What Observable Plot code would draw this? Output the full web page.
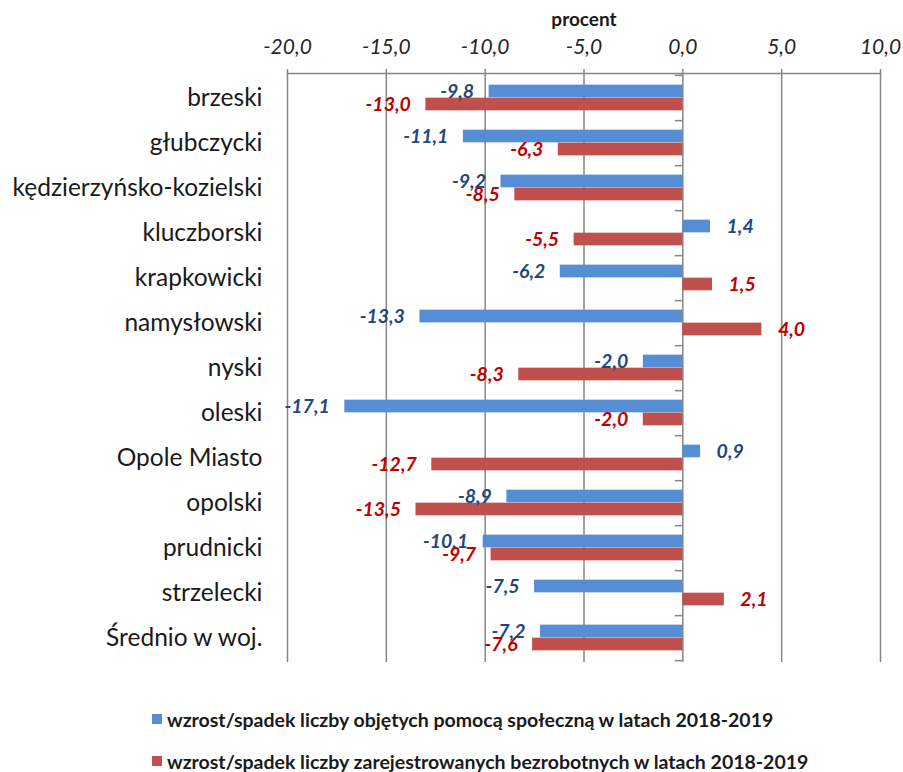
<!DOCTYPE html>
<html>
<head>
<meta charset="utf-8">
<script src="https://cdn.jsdelivr.net/npm/d3@7"></script>
<script src="https://cdn.jsdelivr.net/npm/@observablehq/plot@0.6"></script>
<style>
  html, body { margin: 0; padding: 0; background: #fff; }
  body { width: 903px; height: 772px; overflow: hidden; font-family: Lato, "Open Sans", sans-serif; }
  #legend { position: absolute; left: 152px; top: 698px; font-weight: bold; font-size: 19.5px; color: #1a1a1a; }
  .item { display: flex; align-items: center; height: 42px; white-space: nowrap; }
  .sw { width: 10px; height: 10px; margin-right: 5px; flex: none; }
  #chart { position: absolute; left: 0; top: 0; }
</style>
</head>
<body>
<div id="chart"></div>
<div id="legend"></div>
<script>
const categories = ["brzeski", "głubczycki", "kędzierzyńsko-kozielski", "kluczborski", "krapkowicki", "namysłowski", "nyski", "oleski", "Opole Miasto", "opolski", "prudnicki", "strzelecki", "Średnio w woj."];
const socialAid = [-9.8, -11.1, -9.2, 1.4, -6.2, -13.3, -2.0, -17.1, 0.9, -8.9, -10.1, -7.5, -7.2];
const unemployed = [-13.0, -6.3, -8.5, -5.5, 1.5, 4.0, -8.3, -2.0, -12.7, -13.5, -9.7, 2.1, -7.6];
const xTicks = [-20, -15, -10, -5, 0, 5, 10];
const seriesNames = ["wzrost/spadek liczby objętych pomocą społeczną w latach 2018-2019", "wzrost/spadek liczby zarejestrowanych bezrobotnych w latach 2018-2019"];
const axisTitle = "procent";

const colors = ["#558ED5", "#C0504D"];
const labelColors = ["#1F497D", "#C00000"];

const rows = categories.flatMap((c, i) => [
  {cat: c, s: 0, v: socialAid[i]},
  {cat: c, s: 1, v: unemployed[i]}
]);
const fmt = v => v.toFixed(1).replace(".", ",");

const H = 690, mt = 73, mb = 28;
const band = (H - mt - mb) / categories.length;
const half = band / 2;
const barH = 13;

const valueLabel = (s, neg) => Plot.text(rows, {
  filter: d => d.s === s && (neg ? d.v < 0 : d.v >= 0),
  x: "v", y: "cat", text: d => fmt(d.v),
  textAnchor: neg ? "end" : "start",
  dx: neg ? -15 : 16,
  dy: s === 0 ? -barH / 2 : barH / 2,
  fill: labelColors[s], fontWeight: "bold", fontStyle: "italic", fontSize: 19.5
});

const chart = Plot.plot({
  width: 903, height: H,
  marginTop: mt, marginBottom: mb, marginLeft: 287, marginRight: 23,
  style: {fontFamily: "Lato, 'Open Sans', sans-serif", color: "#1a1a1a", background: "#fff"},
  x: {domain: [-20, 10]},
  y: {domain: categories, padding: 0},
  marks: [
    Plot.ruleX(xTicks, {stroke: "#868686", strokeWidth: 1.5}),
    Plot.frame({anchor: "top", stroke: "#868686", strokeWidth: 1.5}),
    Plot.axisX({anchor: "top", ticks: xTicks, tickFormat: fmt, tickSize: 5, tickPadding: 15,
      stroke: "#868686", strokeWidth: 1.5, fontSize: 21, fontStyle: "italic", fill: "#262626", label: null}),
    Plot.text([axisTitle], {frameAnchor: "top", dy: -61, fontWeight: "bold", fontSize: 19, fill: "#1a1a1a"}),
    Plot.axisY({tickSize: 0, tickPadding: 25, fontSize: 24.5, label: null, fill: "#1a1a1a"}),
    Plot.ruleY(categories, {x1: -0.38, x2: 0, dy: half, stroke: "#868686", strokeWidth: 1.5}),
    Plot.ruleY([categories[0]], {x1: -0.38, x2: 0, dy: -half, stroke: "#868686", strokeWidth: 1.5}),
    Plot.barX(rows, {filter: d => d.s === 0, x: "v", y: "cat", fill: colors[0], insetTop: half - barH, insetBottom: half}),
    Plot.barX(rows, {filter: d => d.s === 1, x: "v", y: "cat", fill: colors[1], insetTop: half, insetBottom: half - barH}),
    valueLabel(0, true), valueLabel(0, false),
    valueLabel(1, true), valueLabel(1, false)
  ]
});
document.getElementById("chart").appendChild(chart);

const legend = document.getElementById("legend");
seriesNames.forEach((name, i) => {
  const item = document.createElement("div");
  item.className = "item";
  const sw = document.createElement("span");
  sw.className = "sw";
  sw.style.background = colors[i];
  const t = document.createElement("span");
  t.textContent = name;
  item.appendChild(sw);
  item.appendChild(t);
  legend.appendChild(item);
});
</script>
</body>
</html>
